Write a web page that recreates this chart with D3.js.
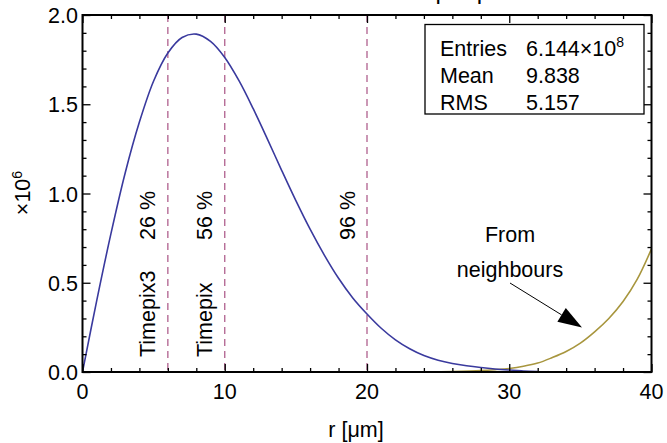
<!DOCTYPE html>
<html>
<head>
<meta charset="utf-8">
<script src="https://cdn.jsdelivr.net/npm/d3@7"></script>
<style>
  html, body { margin: 0; padding: 0; background: #fff; }
  svg { display: block; font-family: "Liberation Sans", Arial, sans-serif; }
</style>
</head>
<body>
<svg id="chart" width="667" height="443"></svg>
<script>
// Radial distribution of charge, counts in units of 10^6
const radius = [0, 1, 2, 3, 4, 5, 6, 7, 8, 9, 10, 11, 12, 13, 14, 15, 16, 17, 18, 19, 20,
                21, 22, 23, 24, 25, 26, 27, 28, 29, 30, 31, 32];
const counts = [0, 0.40, 0.775, 1.115, 1.40, 1.63, 1.787, 1.874, 1.893, 1.852, 1.762,
                1.632, 1.475, 1.305, 1.13, 0.96, 0.80, 0.655, 0.525, 0.415, 0.325,
                0.245, 0.18, 0.13, 0.092, 0.066, 0.048, 0.035, 0.025, 0.017, 0.011, 0.006, 0.002];

// Contribution from neighbouring pixels
const radiusNb = [24, 26, 28, 29, 30, 31, 32, 33, 34, 35, 36, 37, 38, 39, 40];
const countsNb = [0, 0.003, 0.008, 0.013, 0.02, 0.032, 0.05, 0.08, 0.115, 0.162, 0.225,
                  0.30, 0.395, 0.52, 0.69];

// Pixel pitch markers
const markerR = [6, 10, 20];
const markerDet = ["Timepix3", "Timepix", ""];
const markerPct = ["26 %", "56 %", "96 %"];

const xTicks = [0, 10, 20, 30, 40];
const yTicks = [0, 0.5, 1.0, 1.5, 2.0];

const statNames = ["Entries", "Mean", "RMS"];
const statValues = ["6.144×10", "9.838", "5.157"];

const svg = d3.select("#chart");
const L = 82.5, R = 651.5, T = 15, B = 372;
const fs = 21.5;

const x = d3.scaleLinear().domain([0, 40]).range([L, R]);
const y = d3.scaleLinear().domain([0, 2]).range([B, T]);

// Title, running off the top edge
const titlePrefix = "Diffusion ";
const title = svg.append("text")
  .attr("x", 0).attr("y", -1.5)
  .attr("font-size", 24)
  .text(titlePrefix + "per pixel");
const pre = title.node().getSubStringLength(0, titlePrefix.length);
title.attr("x", 435.5 - pre);

const plot = svg.append("g");
plot.append("clipPath").attr("id", "clip")
  .append("rect").attr("x", L).attr("y", T).attr("width", R - L).attr("height", B - T);

// Dashed markers
plot.selectAll("line.marker").data(markerR).join("line")
  .attr("class", "marker")
  .attr("x1", d => x(d)).attr("x2", d => x(d))
  .attr("y1", T).attr("y2", B)
  .attr("stroke", "#b0608e").attr("stroke-width", 1.3)
  .attr("stroke-dasharray", "7,5");

const line = d3.line().x(d => x(d[0])).y(d => y(d[1])).curve(d3.curveCatmullRom.alpha(0.5));

plot.append("path")
  .datum(radiusNb.map((r, i) => [r, countsNb[i]]))
  .attr("d", line)
  .attr("clip-path", "url(#clip)")
  .attr("fill", "none").attr("stroke", "#a8963e").attr("stroke-width", 1.6);

plot.append("path")
  .datum(radius.map((r, i) => [r, counts[i]]))
  .attr("d", line)
  .attr("clip-path", "url(#clip)")
  .attr("fill", "none").attr("stroke", "#3a3a9e").attr("stroke-width", 1.6);

// Marker labels (rotated)
markerR.forEach((r, i) => {
  const bx = x(r) - 12.5;
  if (markerDet[i]) {
    svg.append("text")
      .attr("transform", `translate(${bx},357) rotate(-90)`)
      .attr("font-size", fs).text(markerDet[i]);
  }
  svg.append("text")
    .attr("transform", `translate(${bx},240) rotate(-90)`)
    .attr("font-size", fs).text(markerPct[i]);
});

// Axes with inward ticks on all four sides
const minorX = d3.range(0, 41, 2);
const minorY = d3.range(0, 2.001, 0.1).map(v => +v.toFixed(2));
function isMajorX(v) { return v % 10 === 0; }
function isMajorY(v) { return Math.abs(v * 2 - Math.round(v * 2)) < 1e-6; }

const axB = svg.append("g").attr("transform", `translate(0,${B})`)
  .call(d3.axisBottom(x).tickValues(minorX).tickSizeInner(0).tickSizeOuter(0).tickFormat(""));
const axT = svg.append("g").attr("transform", `translate(0,${T})`)
  .call(d3.axisTop(x).tickValues(minorX).tickSizeInner(0).tickSizeOuter(0).tickFormat(""));
const axL = svg.append("g").attr("transform", `translate(${L},0)`)
  .call(d3.axisLeft(y).tickValues(minorY).tickSizeInner(0).tickSizeOuter(0).tickFormat(""));
const axR = svg.append("g").attr("transform", `translate(${R},0)`)
  .call(d3.axisRight(y).tickValues(minorY).tickSizeInner(0).tickSizeOuter(0).tickFormat(""));

[axB, axT, axL, axR].forEach(a => {
  a.select(".domain").remove();
  a.selectAll(".tick line").attr("stroke", "#000").attr("stroke-width", 1.3);
});
axB.selectAll(".tick line").attr("y2", d => isMajorX(d) ? -8 : -4);
axT.selectAll(".tick line").attr("y2", d => isMajorX(d) ? 8 : 4);
axL.selectAll(".tick line").attr("x2", d => isMajorY(d) ? 8 : 4);
axR.selectAll(".tick line").attr("x2", d => isMajorY(d) ? -8 : -4);

// Frame
svg.append("rect").attr("x", L).attr("y", T).attr("width", R - L).attr("height", B - T)
  .attr("fill", "none").attr("stroke", "#000").attr("stroke-width", 2);

// Tick labels
svg.selectAll("text.xl").data(xTicks).join("text")
  .attr("class", "xl")
  .attr("x", d => x(d)).attr("y", 399)
  .attr("text-anchor", "middle").attr("font-size", fs)
  .text(d => d);
svg.selectAll("text.yl").data(yTicks).join("text")
  .attr("class", "yl")
  .attr("x", 78).attr("y", d => y(d) + 8)
  .attr("text-anchor", "end").attr("font-size", fs)
  .text(d => d.toFixed(1));

// Axis titles
svg.append("text").attr("x", 356).attr("y", 437)
  .attr("text-anchor", "middle").attr("font-size", fs).text("r [μm]");
const yt = svg.append("text")
  .attr("transform", "translate(30,193) rotate(-90)")
  .attr("text-anchor", "middle").attr("font-size", fs);
yt.append("tspan").text("×10");
yt.append("tspan").attr("font-size", 14).attr("dy", -8).text("6");

// Statistics box
svg.append("rect").attr("x", 425).attr("y", 24.5).attr("width", 219).attr("height", 89.5)
  .attr("fill", "#fff").attr("stroke", "#000").attr("stroke-width", 1.3);
statNames.forEach((n, i) => {
  svg.append("text").attr("x", 440).attr("y", 56 + i * 27)
    .attr("font-size", fs).text(n);
  const t = svg.append("text").attr("x", 526).attr("y", 56 + i * 27)
    .attr("font-size", fs).text(statValues[i]);
  if (i === 0) t.append("tspan").attr("font-size", 14).attr("dy", -9).text("8");
});

// Annotation
svg.append("text").attr("x", 510).attr("y", 242)
  .attr("text-anchor", "middle").attr("font-size", fs).text("From");
svg.append("text").attr("x", 510).attr("y", 277)
  .attr("text-anchor", "middle").attr("font-size", fs).text("neighbours");

const ax0 = 510, ay0 = 283, ax1 = 582, ay1 = 327.5;
const ang = Math.atan2(ay1 - ay0, ax1 - ax0);
const headL = 24, headW = 8;
const hx = ax1 - headL * Math.cos(ang), hy = ay1 - headL * Math.sin(ang);
svg.append("line").attr("x1", ax0).attr("y1", ay0).attr("x2", hx).attr("y2", hy)
  .attr("stroke", "#000").attr("stroke-width", 1);
svg.append("path")
  .attr("d", `M${ax1},${ay1} L${hx + headW * Math.sin(ang)},${hy - headW * Math.cos(ang)} L${hx - headW * Math.sin(ang)},${hy + headW * Math.cos(ang)} Z`)
  .attr("fill", "#000");
</script>
</body>
</html>
